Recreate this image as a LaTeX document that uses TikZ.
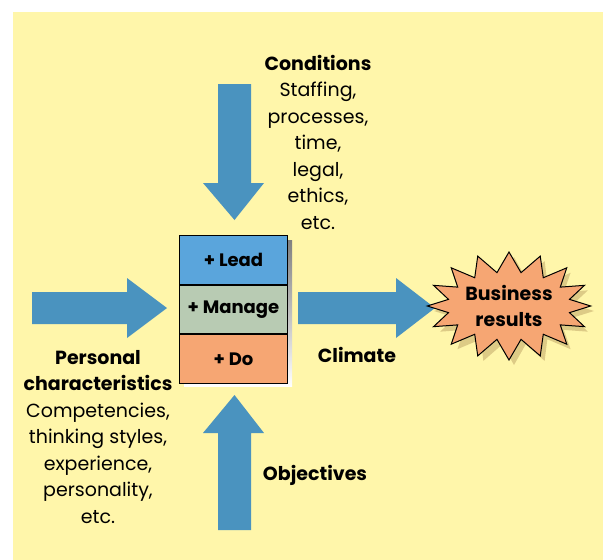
\documentclass[tikz,border=0pt]{standalone}
\usepackage{fontspec}
\setmainfont{Poppins}
\usetikzlibrary{shapes.symbols,positioning}

\definecolor{paper}{HTML}{FFF6AA}
\definecolor{flowblue}{HTML}{4A93BF}
\definecolor{leadblue}{HTML}{5AA5DC}
\definecolor{managegrey}{HTML}{B8CBB3}
\definecolor{doorange}{HTML}{F6A673}
\definecolor{shade}{HTML}{DDCB86}

\begin{document}
\begin{tikzpicture}[
  x=1pt, y=-1pt,
  label/.style={align=center, font=\fontsize{19}{26.5}\selectfont},
  tag/.style={label, font=\fontsize{19}{26.5}\selectfont\bfseries},
  layer/.style={rectangle, draw=black, line width=1pt, minimum width=108pt, minimum height=48.7pt, inner sep=0pt, font=\fontsize{18}{22}\selectfont\bfseries},
  flow/.style={fill=flowblue}
]

\useasboundingbox (0,0) rectangle (603,560);
\fill[paper] (13,12) rectangle (603,560);

% shadow under the role stack
\fill[shade] (184,240) rectangle (292,386);

% role stack
\node[layer, fill=leadblue, anchor=north west] (lead) at (179,235) {+ Lead};
\node[layer, fill=managegrey, below=0pt of lead] (manage) {+ Manage};
\node[layer, fill=doorange, below=0pt of manage] (do) {+ Do};

% block arrows
\fill[flow] (32,292) -- (127,292) -- (127,278) -- (167,308) -- (127,338) -- (127,324) -- (32,324) -- cycle;
\fill[flow] (298,292) -- (396,292) -- (396,278) -- (435,308) -- (396,338) -- (396,324) -- (298,324) -- cycle;
\fill[flow] (218,84) -- (251,84) -- (251,183) -- (264,183) -- (234.5,220) -- (203,183) -- (218,183) -- cycle;
\fill[flow] (218,530) -- (251,530) -- (251,433) -- (264,433) -- (234.5,395) -- (203,433) -- (218,433) -- cycle;

% outcome
\node[starburst, random starburst=0, starburst points=16, starburst point height=20pt,
      minimum width=160pt, minimum height=108pt, fill=shade, inner sep=0pt] at (514,311) {};
\node[starburst, random starburst=0, starburst points=16, starburst point height=20pt,
      minimum width=160pt, minimum height=108pt, fill=doorange, draw=black, line width=1pt,
      inner sep=0pt, tag] (result) at (509,306) {Business\\results};

% influences
\node[label] (conditions) at (318,142) {\textbf{Conditions}\\Staffing,\\processes,\\time,\\legal,\\ethics,\\etc.};
\node[label] (personal) at (98,437) {\textbf{Personal}\\\textbf{characteristics}\\Competencies,\\thinking styles,\\experience,\\personality,\\etc.};
\node[tag] (climate) at (357,355) {Climate};
\node[tag] (objectives) at (315,475) {Objectives};

\end{tikzpicture}
\end{document}
